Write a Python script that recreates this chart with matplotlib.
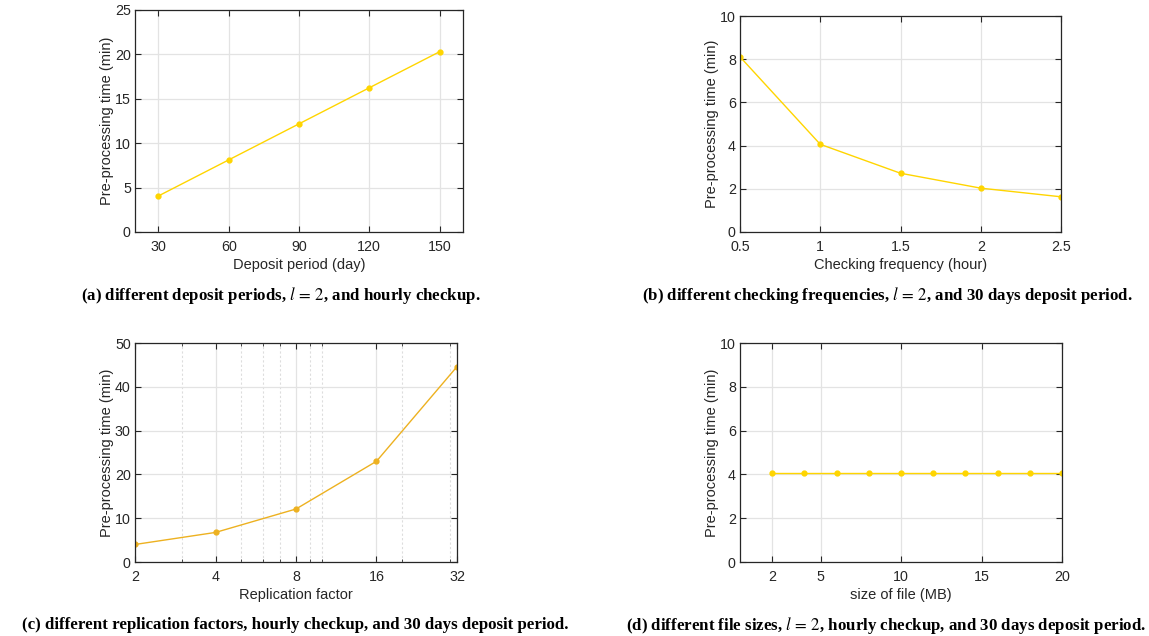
import matplotlib
matplotlib.use("Agg")
import matplotlib.pyplot as plt
from matplotlib.ticker import FixedLocator, NullFormatter, FixedFormatter

plt.rcParams['font.family'] = ['Liberation Sans', 'DejaVu Sans']
plt.rcParams['mathtext.fontset'] = 'stix'

# data
deposit_days = [30, 60, 90, 120, 150]
deposit_time = [4.06, 8.12, 12.18, 16.24, 20.3]

check_freq = [0.5, 1, 1.5, 2, 2.5]
check_time = [8.11, 4.06, 2.72, 2.03, 1.63]

repl_factor = [2, 4, 8, 16, 32]
repl_time = [4.0, 6.75, 12.1, 23.0, 44.6]

file_size = [2, 4, 6, 8, 10, 12, 14, 16, 18, 20]
file_time = [4.05] * 10

captions = [
    r"(a) different deposit periods, $l\,=\,2$, and hourly checkup.",
    r"(b) different checking frequencies, $l\,=\,2$, and 30 days deposit period.",
    r"(c) different replication factors, hourly checkup, and 30 days deposit period.",
    r"(d) different file sizes, $l\,=\,2$, hourly checkup, and 30 days deposit period.",
]

gold = '#FFD500'
orange = '#EDB120'
dark = '#262626'

fig = plt.figure(figsize=(11.49, 6.36), dpi=100)
W, H = 1149, 636

def make_ax(l, t, r, b):
    ax = fig.add_axes([l / W, 1 - b / H, (r - l) / W, (b - t) / H])
    for s in ax.spines.values():
        s.set_color(dark)
        s.set_linewidth(0.9)
    ax.tick_params(direction='in', top=True, right=True, length=4, width=0.8,
                   colors=dark, labelsize=10.3)
    ax.tick_params(axis='x', pad=5.5)
    ax.tick_params(axis='y', pad=3)
    ax.grid(True, color='#E3E3E3', linewidth=0.9)
    ax.set_axisbelow(True)
    return ax

lab = dict(fontsize=10.5, color=dark)
cap = dict(fontsize=12.2, fontweight='bold', family='Liberation Serif',
           ha='center', va='center', color='black')

# (a)
ax = make_ax(135, 10, 463, 232)
ax.plot(deposit_days, deposit_time, '-o', color=gold, lw=1.0, ms=3.5)
ax.set_xlim(20, 160)
ax.set_ylim(0, 25)
ax.set_xticks(deposit_days)
ax.set_yticks([0, 5, 10, 15, 20, 25])
ax.set_xlabel('Deposit period (day)', labelpad=3, **lab)
ax.set_ylabel('Pre-processing time (min)', labelpad=1, **lab)
fig.text(281 / W, 1 - 296 / H, captions[0], **cap)

# (b)
ax = make_ax(740, 16, 1061, 232)
ax.plot(check_freq, check_time, '-o', color=gold, lw=1.0, ms=3.5)
ax.set_xlim(0.5, 2.5)
ax.set_ylim(0, 10)
ax.set_xticks([0.5, 1, 1.5, 2, 2.5])
ax.set_xticklabels(['0.5', '1', '1.5', '2', '2.5'])
ax.set_yticks([0, 2, 4, 6, 8, 10])
ax.set_xlabel('Checking frequency (hour)', labelpad=3, **lab)
ax.set_ylabel('Pre-processing time (min)', labelpad=1, **lab)
fig.text(887 / W, 1 - 296 / H, captions[1], **cap)

# (c)
ax = make_ax(135, 343, 457, 562)
ax.plot(repl_factor, repl_time, '-o', color=orange, lw=1.0, ms=3.5)
ax.set_xscale('log', base=2)
ax.set_xlim(2, 32)
ax.set_ylim(0, 50)
ax.xaxis.set_major_locator(FixedLocator(repl_factor))
ax.xaxis.set_major_formatter(FixedFormatter([str(v) for v in repl_factor]))
ax.xaxis.set_minor_locator(FixedLocator([3, 5, 6, 7, 9, 10, 20, 30]))
ax.xaxis.set_minor_formatter(NullFormatter())
ax.tick_params(which='minor', direction='in', top=True, length=2.5, width=0.6, colors=dark)
ax.grid(True, which='minor', axis='x', color='#DDDDDD', linewidth=0.8, linestyle=(0, (2, 2)))
ax.set_yticks([0, 10, 20, 30, 40, 50])
ax.set_xlabel('Replication factor', labelpad=3, **lab)
ax.set_ylabel('Pre-processing time (min)', labelpad=1, **lab)
fig.text(295 / W, 1 - 625 / H, captions[2], **cap)

# (d)
ax = make_ax(740, 343, 1062, 562)
ax.plot(file_size, file_time, '-o', color=gold, lw=1.0, ms=3.5)
ax.set_xlim(0, 20)
ax.set_ylim(0, 10)
ax.set_xticks([2, 5, 10, 15, 20])
ax.set_yticks([0, 2, 4, 6, 8, 10])
ax.set_xlabel('size of file (MB)', labelpad=3, **lab)
ax.set_ylabel('Pre-processing time (min)', labelpad=1, **lab)
fig.text(886 / W, 1 - 625 / H, captions[3], **cap)

fig.savefig('out.png', dpi=100, facecolor='white')
